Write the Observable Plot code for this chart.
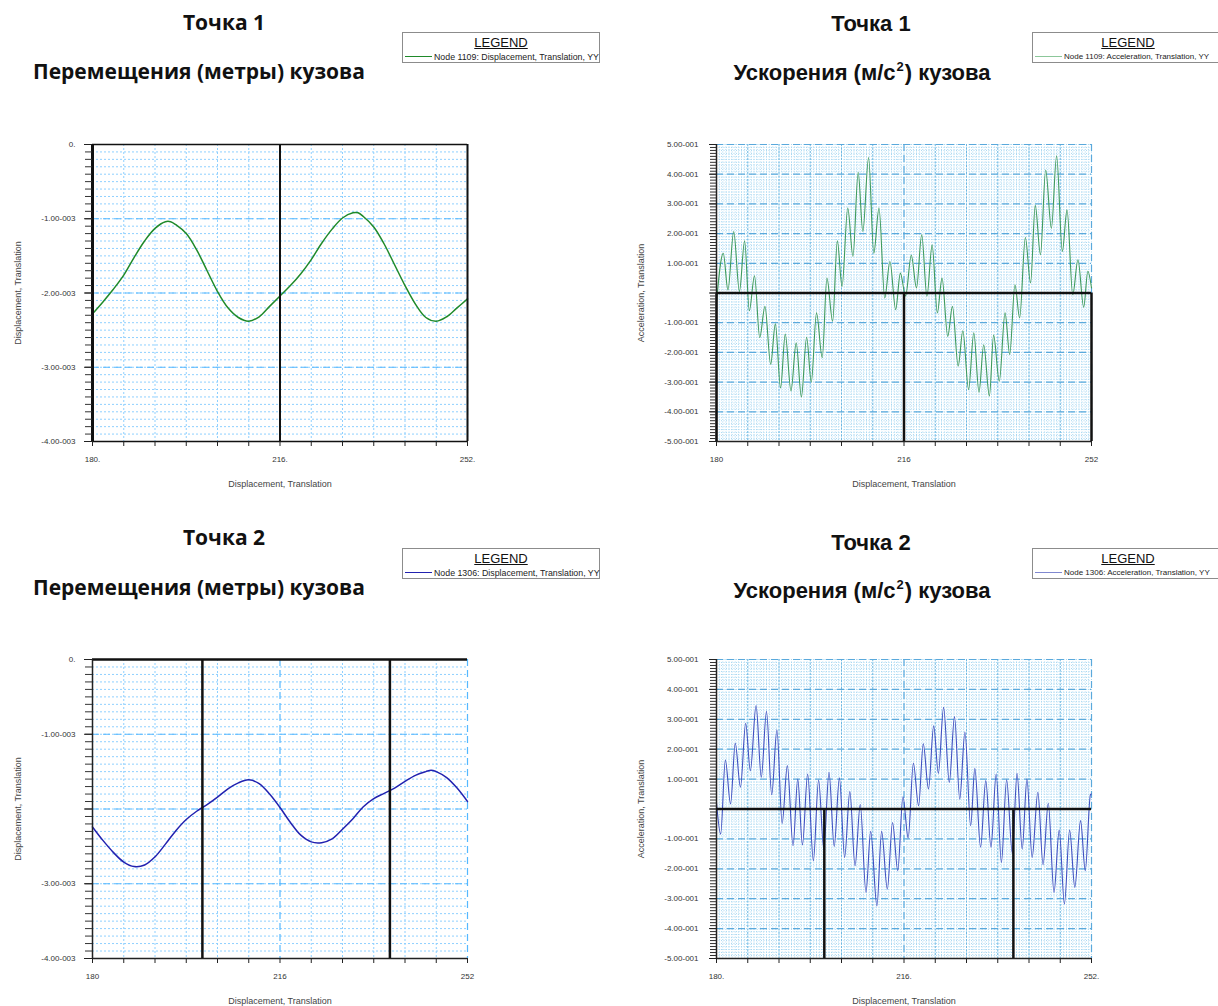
<!DOCTYPE html>
<html>
<head>
<meta charset="utf-8">
<script src="https://cdn.jsdelivr.net/npm/d3@7"></script>
<script src="https://cdn.jsdelivr.net/npm/@observablehq/plot@0.6"></script>
<style>
  body { margin: 0; background: #fff; overflow: hidden; }
  #page { position: relative; width: 1218px; height: 1006px; overflow: hidden; font-family: "Liberation Sans", Arial, sans-serif; }
  .title { position: absolute; font-weight: bold; font-size: 22px; line-height: 22px; white-space: nowrap; transform: translateX(-50%); color: #111; }
  .title.alt { font-family: "Open Sans", "Noto Sans", sans-serif; }
  .title sup { font-size: 13px; line-height: 0; vertical-align: 9px; margin: 0 1px; }
  .legend { position: absolute; border: 1px solid #8c8c8c; height: 31px; box-sizing: border-box; background: #fff; }
  .legend .head { position: absolute; left: 0; right: 0; top: 3px; text-align: center; font-size: 13px; line-height: 13px; text-decoration: underline; color: #111; }
  .legend .key { position: absolute; left: 2px; top: 23px; width: 27px; height: 0; border-top: 1px solid; }
  .legend .lab { position: absolute; left: 31px; top: 18.5px; font-size: 8.8px; line-height: 10px; white-space: nowrap; color: #222; }
  .legend.edge .lab { font-size: 8px; top: 19px; }
  .panel { position: absolute; }
</style>
</head>
<body>
<div id="page"></div>
<script>
// ---- axis ticks and labels ----
const xMajorTicks = [180, 186, 192, 198, 204, 210, 216, 222, 228, 234, 240, 246, 252];
const xLabelTicks = [180, 216, 252];
const xLabelsDot = ["180.", "216.", "252."];
const xLabelsPlain = ["180", "216", "252"];

const dispTicks = [0, -0.001, -0.002, -0.003, -0.004];
const dispLabelsFull = ["0.", "-1.00-003", "-2.00-003", "-3.00-003", "-4.00-003"];
const dispLabelsGap = ["0.", "-1.00-003", "", "-3.00-003", "-4.00-003"];

const accTicks = [0.5, 0.4, 0.3, 0.2, 0.1, 0, -0.1, -0.2, -0.3, -0.4, -0.5];
const accLabels = ["5.00-001", "4.00-001", "3.00-001", "2.00-001", "1.00-001", "",
  "-1.00-001", "-2.00-001", "-3.00-001", "-4.00-001", "-5.00-001"];

// ---- node 1109: displacement YY (m) ----
const disp1109 = [
  [180, -2.28e-3], [182, -2.12e-3], [184, -1.95e-3], [186, -1.76e-3], [188, -1.52e-3],
  [190, -1.30e-3], [192, -1.13e-3], [194, -1.04e-3], [195, -1.04e-3], [196, -1.08e-3],
  [198, -1.20e-3], [200, -1.42e-3], [202, -1.70e-3], [204, -1.98e-3], [206, -2.20e-3],
  [208, -2.33e-3], [210, -2.38e-3], [212, -2.32e-3], [214, -2.18e-3], [216, -2.04e-3],
  [218, -1.90e-3], [220, -1.74e-3], [222, -1.55e-3], [224, -1.33e-3], [226, -1.14e-3],
  [228, -0.99e-3], [230, -0.92e-3], [231, -0.92e-3], [232, -0.97e-3], [234, -1.11e-3],
  [236, -1.34e-3], [238, -1.62e-3], [240, -1.90e-3], [242, -2.15e-3], [244, -2.33e-3],
  [246, -2.38e-3], [248, -2.32e-3], [250, -2.20e-3], [252, -2.08e-3]
];

// ---- node 1109: acceleration YY (m/s^2) ----
const acc1109 = [
  [180, -0.03], [181.3, 0.134], [182.2, 0.01], [183.3, 0.207], [184.4, 0.005], [185.4, 0.176],
  [186.3, -0.06], [187.3, 0.058], [188.3, -0.15], [189.3, -0.045], [190.4, -0.24], [191.3, -0.104],
  [192.3, -0.32], [193.2, -0.138], [194.3, -0.33], [195.3, -0.168], [196.3, -0.35], [197.3, -0.149],
  [198.2, -0.30], [199.2, -0.067], [200.3, -0.218], [201.2, 0.05], [202.3, -0.095], [203.2, 0.176],
  [204.1, 0.022], [205.2, 0.286], [206.2, 0.123], [207.2, 0.406], [208.1, 0.207], [209.2, 0.456],
  [210.2, 0.134], [211.2, 0.286], [212.3, -0.017], [213.3, 0.106], [214.4, -0.056], [215.3, 0.067],
  [216.3, -0.01], [217.4, 0.127], [218.4, 0.017], [219.4, 0.196], [220.4, -0.011], [221.4, 0.162],
  [222.4, -0.067], [223.3, 0.05], [224.4, -0.146], [225.3, -0.045], [226.4, -0.246], [227.3, -0.127],
  [228.4, -0.325], [229.4, -0.134], [230.4, -0.334], [231.3, -0.174], [232.4, -0.347], [233.2, -0.142],
  [234.3, -0.297], [235.4, -0.067], [236.3, -0.207], [237.3, 0.028], [238.2, -0.084], [239.3, 0.187],
  [240.3, 0.034], [241.2, 0.295], [242.2, 0.129], [243.2, 0.414], [244.3, 0.218], [245.3, 0.462],
  [246.4, 0.14], [247.3, 0.28], [248.4, -0.006], [249.4, 0.112], [250.5, -0.048], [251.3, 0.073],
  [252, 0.017]
];

// ---- node 1306: displacement YY (m) ----
const disp1306 = [
  [180, -2.24e-3], [182, -2.42e-3], [184, -2.58e-3], [186, -2.71e-3], [188, -2.77e-3],
  [190, -2.75e-3], [192, -2.64e-3], [194, -2.47e-3], [196, -2.29e-3], [198, -2.14e-3],
  [200, -2.03e-3], [202, -1.94e-3], [204, -1.84e-3], [206, -1.73e-3], [208, -1.65e-3],
  [210, -1.61e-3], [212, -1.66e-3], [214, -1.80e-3], [216, -1.98e-3], [218, -2.18e-3],
  [220, -2.35e-3], [222, -2.44e-3], [224, -2.45e-3], [226, -2.40e-3], [228, -2.27e-3],
  [230, -2.13e-3], [232, -1.97e-3], [234, -1.86e-3], [236, -1.79e-3], [238, -1.72e-3],
  [240, -1.63e-3], [242, -1.55e-3], [244, -1.50e-3], [245, -1.48e-3], [246, -1.50e-3],
  [248, -1.58e-3], [250, -1.72e-3], [252, -1.90e-3]
];

// ---- node 1306: acceleration YY (m/s^2) ----
const acc1306 = [
  [180, 0.022], [180.8, -0.084], [181.7, 0.164], [182.7, 0.017], [183.6, 0.22], [184.6, 0.073],
  [185.6, 0.287], [186.5, 0.128], [187.6, 0.346], [188.6, 0.106], [189.6, 0.327], [190.6, 0.048],
  [191.6, 0.265], [192.6, -0.048], [193.6, 0.145], [194.7, -0.123], [195.6, 0.10], [196.5, -0.12],
  [197.5, 0.117], [198.6, -0.173], [199.6, 0.097], [200.6, -0.134], [201.6, 0.123], [202.6, -0.125],
  [203.6, 0.104], [204.6, -0.162], [205.6, 0.058], [206.6, -0.19], [207.6, 0.015], [208.7, -0.279],
  [209.6, -0.075], [210.8, -0.324], [211.7, -0.075], [212.8, -0.268], [213.8, -0.045], [214.8, -0.206],
  [215.8, 0.041], [216.8, -0.097], [217.8, 0.153], [218.8, 0.011], [219.7, 0.218], [220.7, 0.067],
  [221.7, 0.278], [222.6, 0.119], [223.6, 0.34], [224.7, 0.089], [225.7, 0.309], [226.7, 0.033],
  [227.7, 0.257], [228.8, -0.056], [229.6, 0.136], [230.7, -0.128], [231.7, 0.095], [232.7, -0.128],
  [233.7, 0.117], [234.7, -0.179], [235.7, 0.098], [236.8, -0.148], [237.7, 0.119], [238.7, -0.134],
  [239.6, 0.10], [240.6, -0.162], [241.7, 0.056], [242.7, -0.186], [243.7, 0.019], [244.8, -0.279],
  [245.8, -0.07], [246.8, -0.318], [247.8, -0.07], [248.8, -0.262], [249.9, -0.039], [250.8, -0.206],
  [251.8, 0.048], [252, 0.05]
];

// ---- cursor (black) lines per panel ----
const cursors1109Disp = [216];
const cursors1109Acc = [180, 216, 252];
const cursors1306Disp = [201.1, 237.1];
const cursors1306Acc = [200.7, 237.0];

// ---- page text ----
const titles = [
  {text: "Точка 1", x: 224, y: 12, size: 21, alt: true},
  {text: "Перемещения (метры) кузова", x: 199, y: 61, size: 21, alt: true},
  {text: "Точка 1", x: 871, y: 13, size: 22},
  {html: "Ускорения (м/с<sup>2</sup>) кузова", x: 862, y: 62, size: 22},
  {text: "Точка 2", x: 224, y: 527, size: 21, alt: true},
  {text: "Перемещения (метры) кузова", x: 199, y: 577, size: 21, alt: true},
  {text: "Точка 2", x: 871, y: 532, size: 22},
  {html: "Ускорения (м/с<sup>2</sup>) кузова", x: 862, y: 580, size: 22}
];
const legends = [
  {x: 402, y: 32, w: 198, color: "#1f8a2a", label: "Node 1109: Displacement, Translation, YY"},
  {x: 1032, y: 32, w: 192, color: "#8cc79a", label: "Node 1109: Acceleration, Translation, YY", edge: true},
  {x: 402, y: 548, w: 198, color: "#2222b0", label: "Node 1306: Displacement, Translation, YY"},
  {x: 1032, y: 548, w: 192, color: "#8088d0", label: "Node 1306: Acceleration, Translation, YY", edge: true}
];

const page = document.getElementById("page");

for (const t of titles) {
  const d = document.createElement("div");
  d.className = t.alt ? "title alt" : "title";
  d.style.left = t.x + "px";
  d.style.top = t.y + "px";
  d.style.fontSize = t.size + "px";
  d.style.lineHeight = t.size + "px";
  if (t.html) d.innerHTML = t.html; else d.textContent = t.text;
  page.appendChild(d);
}

for (const l of legends) {
  const box = document.createElement("div");
  box.className = l.edge ? "legend edge" : "legend";
  box.style.left = l.x + "px";
  box.style.top = l.y + "px";
  box.style.width = l.w + "px";
  box.innerHTML = `<div class="head">LEGEND</div><div class="key" style="border-color:${l.color}"></div><div class="lab"></div>`;
  box.querySelector(".lab").textContent = l.label;
  page.appendChild(box);
}

const xFrame = 375;
const label = (values, labels) => {
  const m = new Map(values.map((v, i) => [v, labels[i]]));
  return d => m.get(d) ?? "";
};

function displacementPanel({left, top, frameH, data, stroke, strokeWidth, xLabels, yLabels, frameRules}) {
  const minor = d3.range(0, 41).map(i => -i * 1e-4);
  const mb = top > 300 ? 48 : 70;
  const chart = Plot.plot({
    width: 92 + xFrame + 20,
    height: 24 + frameH + mb,
    marginLeft: 92, marginRight: 20, marginTop: 24, marginBottom: mb,
    x: {domain: [180, 252], axis: null},
    y: {domain: [-0.004, 0], axis: null},
    style: {fontFamily: "Liberation Sans, Arial, sans-serif", fontSize: "8px", color: "#222", background: "transparent", overflow: "visible"},
    marks: [
      Plot.gridY(minor, {stroke: "#8fd0ff", strokeOpacity: 1, strokeDasharray: "2,2"}),
      Plot.gridX(xMajorTicks.filter(v => v !== 216 && v !== 252), {stroke: "#8fd0ff", strokeOpacity: 1, strokeDasharray: "2,2"}),
      Plot.gridX([216, 252], {stroke: "#55b8ff", strokeOpacity: 1, strokeDasharray: "7,4", strokeWidth: 1.2}),
      Plot.gridY(dispTicks, {stroke: "#55b8ff", strokeOpacity: 1, strokeDasharray: "7,4", strokeWidth: 1.2}),
      Plot.line(data, {x: d => d[0], y: d => d[1], stroke, strokeWidth, curve: "catmull-rom"}),
      ...frameRules,
      Plot.axisY(minor, {tickSize: 7, tickFormat: () => "", label: null, stroke: "#333"}),
      Plot.axisY(dispTicks, {tickSize: 8, tickPadding: 9, tickFormat: label(dispTicks, yLabels), label: null, fill: "#333"}),
      Plot.axisX(xMajorTicks, {tickSize: 5, tickFormat: () => "", label: null, stroke: "#222"}),
      Plot.axisX(xLabelTicks, {tickSize: 0, tickPadding: 15, tickFormat: label(xLabelTicks, xLabels), label: null, fill: "#333"}),
      Plot.text(["Displacement, Translation"], {frameAnchor: "bottom", dy: 43, fontSize: 9, fill: "#444", textAnchor: "middle", lineAnchor: "middle"}),
      Plot.text(["Displacement, Translation"], {frameAnchor: "left", dx: -74, rotate: -90, fontSize: 9, fill: "#444", textAnchor: "middle", lineAnchor: "middle"})
    ]
  });
  chart.classList.add("panel");
  chart.style.left = left + "px";
  chart.style.top = top + "px";
  page.appendChild(chart);
}

function accelerationPanel({left, top, frameH, data, stroke, strokeWidth, xLabels, frameRules}) {
  const minorY = d3.range(-50, 51).map(i => i / 100);
  const minorX = d3.range(0, 121).map(i => 180 + i * 0.6);
  const mb = top > 300 ? 48 : 70;
  const chart = Plot.plot({
    width: 86 + xFrame + 20,
    height: 24 + frameH + mb,
    marginLeft: 86, marginRight: 20, marginTop: 24, marginBottom: mb,
    x: {domain: [180, 252], axis: null},
    y: {domain: [-0.5, 0.5], axis: null},
    style: {fontFamily: "Liberation Sans, Arial, sans-serif", fontSize: "8px", color: "#222", background: "transparent", overflow: "visible"},
    marks: [
      Plot.gridY(minorY, {stroke: "#a9d8f2", strokeOpacity: 1, strokeDasharray: "1,1.5"}),
      Plot.gridX(minorX, {stroke: "#a9d8f2", strokeOpacity: 1, strokeDasharray: "1,1.5"}),
      Plot.gridX(xMajorTicks.filter(v => v !== 216 && v !== 252), {stroke: "#6fb8e2", strokeOpacity: 1, strokeDasharray: "2,1.5"}),
      Plot.gridX([216, 252], {stroke: "#5aa9dc", strokeOpacity: 1, strokeDasharray: "7,4", strokeWidth: 1.2}),
      Plot.gridY(accTicks, {stroke: "#5aa9dc", strokeOpacity: 1, strokeDasharray: "7,4", strokeWidth: 1.2}),
      Plot.line(data, {x: d => d[0], y: d => d[1], stroke, strokeWidth, curve: "monotone-x"}),
      ...frameRules,
      Plot.axisY(minorY, {tickSize: 6, tickFormat: () => "", label: null, stroke: "#333"}),
      Plot.axisY(accTicks, {tickSize: 7, tickPadding: 11, tickFormat: label(accTicks, accLabels), label: null, fill: "#333"}),
      Plot.axisX(xMajorTicks, {tickSize: 5, tickFormat: () => "", label: null, stroke: "#222"}),
      Plot.axisX(xLabelTicks, {tickSize: 0, tickPadding: 15, tickFormat: label(xLabelTicks, xLabels), label: null, fill: "#333"}),
      Plot.text(["Displacement, Translation"], {frameAnchor: "bottom", dy: 43, fontSize: 9, fill: "#444", textAnchor: "middle", lineAnchor: "middle"}),
      Plot.text(["Acceleration, Translation"], {frameAnchor: "left", dx: -75, rotate: -90, fontSize: 9, fill: "#444", textAnchor: "middle", lineAnchor: "middle"})
    ]
  });
  chart.classList.add("panel");
  chart.style.left = left + "px";
  chart.style.top = top + "px";
  page.appendChild(chart);
}

// Node 1109 displacement: boxed frame with one cursor
displacementPanel({
  left: 0, top: 120, frameH: 297, data: disp1109, stroke: "#1f8a2a", strokeWidth: 1.5,
  xLabels: xLabelsDot, yLabels: dispLabelsFull,
  frameRules: [
    Plot.ruleY([0, -0.004], {stroke: "#111", strokeWidth: 1.6}),
    Plot.ruleX([180], {stroke: "#111", strokeWidth: 3}),
    Plot.ruleX([252], {stroke: "#111", strokeWidth: 2}),
    Plot.ruleX(cursors1109Disp, {stroke: "#111", strokeWidth: 2})
  ]
});

// Node 1109 acceleration: cursors hang below the zero line
accelerationPanel({
  left: 630, top: 120, frameH: 297, data: acc1109, stroke: "#3f9a5c", strokeWidth: 1.1,
  xLabels: xLabelsPlain,
  frameRules: [
    Plot.ruleX([180], {stroke: "#222", strokeWidth: 1.5}),
    Plot.ruleY([-0.5], {stroke: "#222", strokeWidth: 1.5}),
    Plot.ruleY([0], {stroke: "#111", strokeWidth: 2.5}),
    Plot.ruleX(cursors1109Acc, {y1: -0.5, y2: 0, stroke: "#111", strokeWidth: 2.5})
  ]
});

// Node 1306 displacement
displacementPanel({
  left: 0, top: 635, frameH: 299, data: disp1306, stroke: "#2222b0", strokeWidth: 1.5,
  xLabels: xLabelsPlain, yLabels: dispLabelsGap,
  frameRules: [
    Plot.ruleY([0], {stroke: "#111", strokeWidth: 2.5}),
    Plot.ruleY([-0.004], {stroke: "#222", strokeWidth: 1.5}),
    Plot.ruleX([180], {stroke: "#222", strokeWidth: 1.5}),
    Plot.ruleX(cursors1306Disp, {stroke: "#111", strokeWidth: 2.5})
  ]
});

// Node 1306 acceleration
accelerationPanel({
  left: 630, top: 635, frameH: 299, data: acc1306, stroke: "#4050c0", strokeWidth: 1.1,
  xLabels: xLabelsDot,
  frameRules: [
    Plot.ruleX([180], {stroke: "#222", strokeWidth: 1.5}),
    Plot.ruleY([-0.5], {stroke: "#222", strokeWidth: 1.5}),
    Plot.ruleY([0], {stroke: "#111", strokeWidth: 2.5}),
    Plot.ruleX(cursors1306Acc, {y1: -0.5, y2: 0, stroke: "#111", strokeWidth: 2.5})
  ]
});
</script>
</body>
</html>
